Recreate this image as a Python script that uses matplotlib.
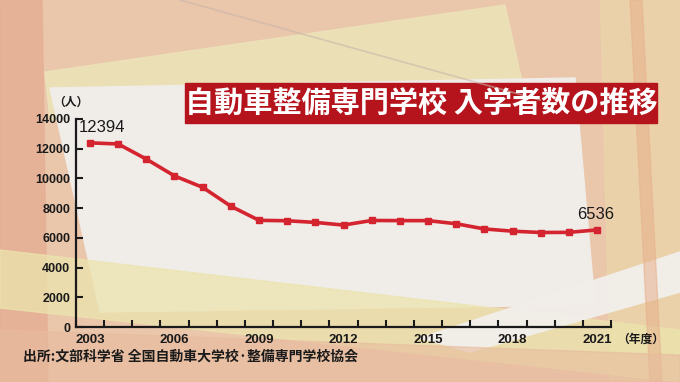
import numpy as np
import matplotlib.pyplot as plt
from matplotlib.patches import Polygon, Rectangle

plt.rcParams['font.family'] = ['Liberation Sans', 'Noto Sans CJK JP', 'DejaVu Sans']

# data
years = list(range(2003, 2022))
students = [12394, 12320, 11300, 10170, 9400, 8130, 7180,
            7150, 7040, 6860, 7170, 7160, 7160, 6950, 6600,
            6450, 6360, 6370, 6536]
year_ticks = [2003, 2006, 2009, 2012, 2015, 2018, 2021]
y_ticks = [0, 2000, 4000, 6000, 8000, 10000, 12000, 14000]

title = '自動車整備専門学校 入学者数の推移'
source = '出所:文部科学省 全国自動車大学校·整備専門学校協会'

fig = plt.figure(figsize=(6.8, 3.82), dpi=100)

# ---- background (pixel coords) ----
bg = fig.add_axes([0, 0, 1, 1], zorder=-1)
bg.set_xlim(0, 680)
bg.set_ylim(382, 0)
bg.axis('off')
bg.add_patch(Rectangle((0, 0), 680, 382, color='#eac6ab'))
bg.add_patch(Polygon([(0, 0), (42, 0), (48, 382), (0, 382)], color='#e5ae93', alpha=0.8))
bg.add_patch(Polygon([(45, 72), (505, 5), (525, 95), (50, 120)], color='#ece2b8', alpha=0.9))
bg.plot([180, 540], [0, 100], color='#c8b6aa', lw=1.2, alpha=0.6)
bg.add_patch(Polygon([(600, 0), (680, 0), (680, 382), (610, 382)], color='#ebd6aa', alpha=0.7))
bg.add_patch(Polygon([(50, 88), (575, 78), (595, 305), (100, 312)], color='#f0ece8'))
bg.add_patch(Polygon([(0, 250), (680, 330), (680, 382), (0, 308)], color='#ece4ae', alpha=0.75))
bg.add_patch(Polygon([(420, 338), (680, 252), (680, 292), (470, 352)], color='#f2efeb', alpha=0.95))
bg.add_patch(Polygon([(630, 0), (642, 0), (662, 382), (650, 382)], color='#e7b08c', alpha=0.55))
bg.add_patch(Polygon([(0, 330), (680, 355), (680, 382), (0, 382)], color='#e8bb9e', alpha=0.6))

# ---- title box ----
bg.add_patch(Rectangle((185, 83), 472, 40, color='#b5141c'))
bg.text(421, 103, title, color='white', fontsize=21, fontweight='bold',
        family=['Noto Sans CJK JP'], ha='center', va='center')

# ---- chart ----
ax = fig.add_axes([75.9 / 680, 55 / 382, 535.2 / 680, 208 / 382])
ax.patch.set_alpha(0)
x = np.arange(len(years))
ax.plot(x, students, color='#d4242f', lw=2.6, marker='s', ms=4, zorder=3)

ax.set_xlim(-0.5, len(years) - 0.5)
ax.set_ylim(0, 14000)
ax.spines[['top', 'right']].set_visible(False)
for s in ['left', 'bottom']:
    ax.spines[s].set_linewidth(1.6)
    ax.spines[s].set_color('#1a1a1a')

ax.set_xticks([years.index(y) for y in year_ticks])
ax.set_xticklabels([str(y) for y in year_ticks])
ax.set_xticks(np.arange(-0.5, len(years)), minor=True)
ax.tick_params(axis='x', which='major', length=0, pad=5, labelsize=9.5)
ax.tick_params(axis='x', which='minor', direction='in', length=5, width=1.5, color='#1a1a1a')
ax.set_yticks(y_ticks)
ax.tick_params(axis='y', direction='in', length=5, width=1.5, color='#1a1a1a',
               pad=4, labelsize=9)
for lab in ax.get_xticklabels() + ax.get_yticklabels():
    lab.set_fontweight('bold')
    lab.set_color('#1a1a1a')

ax.annotate(f'{students[0]}', (x[0], students[0]), xytext=(-8, 8),
            textcoords='offset points', fontsize=12, color='#1a1a1a')
ax.annotate(f'{students[-1]}', (x[-1], students[-1]), xytext=(-14, 8),
            textcoords='offset points', fontsize=12, color='#1a1a1a')

fig.text(71 / 680, 1 - 103 / 382, '（人）', fontsize=8.5, fontweight='bold',
         ha='center', va='center', color='#1a1a1a')
fig.text(641 / 680, 1 - 340 / 382, '（年度）', fontsize=8.5, fontweight='bold',
         ha='center', va='center', color='#1a1a1a')
fig.text(23 / 680, 1 - 357 / 382, source, fontsize=10, fontweight='bold',
         ha='left', va='center', color='#1a1a1a',
         family=['Noto Sans CJK JP', 'DejaVu Sans'])

fig.savefig('out.png', dpi=100)
